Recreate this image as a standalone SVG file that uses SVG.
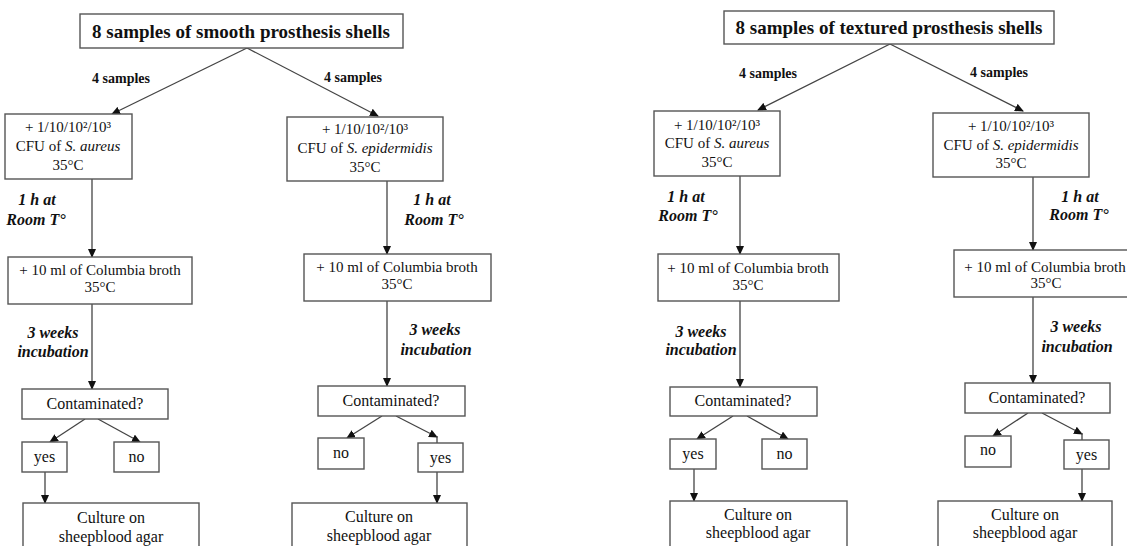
<svg xmlns="http://www.w3.org/2000/svg" width="1127" height="546" viewBox="0 0 1127 546">
<defs>
<marker id="ah" markerUnits="userSpaceOnUse" markerWidth="9" markerHeight="8" refX="8" refY="4" orient="auto">
<path d="M0,0 L9,4 L0,8 z" fill="#111"/>
</marker>
<style>
rect{fill:#fff;stroke:#555;stroke-width:1.4}
text{font-family:"Liberation Serif","Times New Roman",serif;fill:#111;text-anchor:middle}
.t{font-size:19px;font-weight:bold}
.s{font-size:14px;font-weight:bold}
.b{font-size:15px}
.c{font-size:16px}
.l{font-size:16px;font-weight:bold;font-style:italic}
.i{font-style:italic}
#connectors line{stroke:#444;stroke-width:1.3}
#connectors line.a{marker-end:url(#ah)}
</style>
</defs>
<rect x="0" y="0" width="1127" height="546" style="fill:#fff;stroke:none"/>
<g id="connectors">
<line class="a" x1="247" y1="48" x2="112" y2="114"/>
<line class="a" x1="247" y1="48" x2="378" y2="116"/>
<line class="a" x1="92" y1="179" x2="92" y2="257"/>
<line class="a" x1="387" y1="181" x2="387" y2="254"/>
<line class="a" x1="92" y1="304" x2="92" y2="389"/>
<line class="a" x1="387" y1="301" x2="387" y2="386"/>
<line class="a" x1="85" y1="419" x2="50" y2="442"/>
<line class="a" x1="98" y1="419" x2="140" y2="442"/>
<line class="a" x1="45" y1="472" x2="45" y2="503"/>
<line class="a" x1="382" y1="416" x2="347" y2="438"/>
<line class="a" x1="396" y1="416" x2="437" y2="437"/>
<line x1="437" y1="436" x2="437" y2="443"/>
<line class="a" x1="437" y1="472" x2="437" y2="503"/>
<line class="a" x1="890" y1="44" x2="758" y2="110"/>
<line class="a" x1="890" y1="44" x2="1023" y2="111"/>
<line class="a" x1="740" y1="176" x2="740" y2="254"/>
<line class="a" x1="1033" y1="177" x2="1033" y2="250"/>
<line class="a" x1="740" y1="301" x2="740" y2="387"/>
<line class="a" x1="1033" y1="297" x2="1033" y2="383"/>
<line class="a" x1="733" y1="416" x2="697" y2="439"/>
<line class="a" x1="747" y1="416" x2="788" y2="439"/>
<line class="a" x1="694" y1="469" x2="694" y2="501"/>
<line class="a" x1="1028" y1="413" x2="993" y2="436"/>
<line class="a" x1="1042" y1="413" x2="1082" y2="434"/>
<line x1="1082" y1="433" x2="1082" y2="440"/>
<line class="a" x1="1082" y1="469" x2="1082" y2="501"/>
</g>
<g id="labels">
<text class="s" x="121" y="83">4 samples</text>
<text class="s" x="353" y="82">4 samples</text>
<text class="l" x="37" y="205">1 h at</text>
<text class="l" x="36" y="225">Room T°</text>
<text class="l" x="432" y="205">1 h at</text>
<text class="l" x="434" y="225">Room T°</text>
<text class="l" x="53" y="338">3 weeks</text>
<text class="l" x="53" y="357">incubation</text>
<text class="l" x="435" y="335">3 weeks</text>
<text class="l" x="436" y="355">incubation</text>
<text class="s" x="768" y="78">4 samples</text>
<text class="s" x="999" y="77">4 samples</text>
<text class="l" x="686" y="202">1 h at</text>
<text class="l" x="688" y="221">Room T°</text>
<text class="l" x="1080" y="202">1 h at</text>
<text class="l" x="1079" y="220">Room T°</text>
<text class="l" x="701" y="337">3 weeks</text>
<text class="l" x="701" y="355">incubation</text>
<text class="l" x="1076" y="332">3 weeks</text>
<text class="l" x="1077" y="352">incubation</text>
</g>
<g id="smooth-title"><rect x="80" y="14" width="323" height="34"/><text class="t" x="241" y="38">8 samples of smooth prosthesis shells</text></g>
<g id="smooth-aureus"><rect x="5" y="114" width="127" height="65"/><text class="b" x="68" y="132">+ 1/10/10²/10³</text><text class="b" x="68" y="151">CFU of <tspan class="i">S. aureus</tspan></text><text class="b" x="68" y="170">35°C</text></g>
<g id="smooth-epidermidis"><rect x="287" y="117" width="156" height="64"/><text class="b" x="365" y="134">+ 1/10/10²/10³</text><text class="b" x="365" y="153">CFU of <tspan class="i">S. epidermidis</tspan></text><text class="b" x="365" y="172">35°C</text></g>
<g id="smooth-a-broth"><rect x="8" y="257" width="184" height="47"/><text class="b" x="100" y="275">+ 10 ml of Columbia broth</text><text class="b" x="100" y="292">35°C</text></g>
<g id="smooth-e-broth"><rect x="304" y="254" width="187" height="47"/><text class="b" x="397" y="272">+ 10 ml of Columbia broth</text><text class="b" x="397" y="289">35°C</text></g>
<g id="smooth-a-cont"><rect x="22" y="389" width="146" height="30"/><text class="c" x="95" y="409">Contaminated?</text></g>
<g id="smooth-e-cont"><rect x="318" y="386" width="147" height="30"/><text class="c" x="391" y="406">Contaminated?</text></g>
<g id="smooth-a-yes"><rect x="22" y="442" width="45" height="30"/><text class="c" x="44.5" y="462">yes</text></g>
<g id="smooth-a-no"><rect x="114" y="442" width="45" height="30"/><text class="c" x="136.5" y="462">no</text></g>
<g id="smooth-e-no"><rect x="318" y="438" width="46" height="31"/><text class="c" x="341" y="458">no</text></g>
<g id="smooth-e-yes"><rect x="418" y="443" width="45" height="29"/><text class="c" x="440.5" y="463">yes</text></g>
<g id="smooth-a-culture"><rect x="23" y="503" width="176" height="60"/><text class="c" x="111" y="523">Culture on</text><text class="c" x="111" y="542">sheepblood agar</text></g>
<g id="smooth-e-culture"><rect x="292" y="503" width="175" height="60"/><text class="c" x="379" y="522">Culture on</text><text class="c" x="379" y="541">sheepblood agar</text></g>
<g id="textured-title"><rect x="724" y="11" width="330" height="33"/><text class="t" x="889" y="34">8 samples of textured prosthesis shells</text></g>
<g id="textured-aureus"><rect x="654" y="111" width="126" height="65"/><text class="b" x="717" y="130">+ 1/10/10²/10³</text><text class="b" x="717" y="148">CFU of <tspan class="i">S. aureus</tspan></text><text class="b" x="717" y="167">35°C</text></g>
<g id="textured-epidermidis"><rect x="933" y="113" width="156" height="64"/><text class="b" x="1011" y="131">+ 1/10/10²/10³</text><text class="b" x="1011" y="150">CFU of <tspan class="i">S. epidermidis</tspan></text><text class="b" x="1011" y="168">35°C</text></g>
<g id="textured-a-broth"><rect x="658" y="254" width="181" height="47"/><text class="b" x="748" y="273">+ 10 ml of Columbia broth</text><text class="b" x="748" y="290">35°C</text></g>
<g id="textured-e-broth"><rect x="954" y="250" width="182" height="47"/><text class="b" x="1045" y="272">+ 10 ml of Columbia broth</text><text class="b" x="1046" y="288">35°C</text></g>
<g id="textured-a-cont"><rect x="670" y="387" width="147" height="29"/><text class="c" x="743" y="406">Contaminated?</text></g>
<g id="textured-e-cont"><rect x="965" y="383" width="145" height="30"/><text class="c" x="1037" y="403">Contaminated?</text></g>
<g id="textured-a-yes"><rect x="670" y="439" width="46" height="30"/><text class="c" x="693" y="459">yes</text></g>
<g id="textured-a-no"><rect x="762" y="439" width="45" height="30"/><text class="c" x="784.5" y="459">no</text></g>
<g id="textured-e-no"><rect x="965" y="436" width="46" height="31"/><text class="c" x="988" y="455">no</text></g>
<g id="textured-e-yes"><rect x="1064" y="440" width="45" height="29"/><text class="c" x="1086.5" y="460">yes</text></g>
<g id="textured-a-culture"><rect x="670" y="501" width="177" height="60"/><text class="c" x="758" y="520">Culture on</text><text class="c" x="758" y="538">sheepblood agar</text></g>
<g id="textured-e-culture"><rect x="938" y="501" width="174" height="60"/><text class="c" x="1025" y="520">Culture on</text><text class="c" x="1025" y="538">sheepblood agar</text></g>
</svg>
